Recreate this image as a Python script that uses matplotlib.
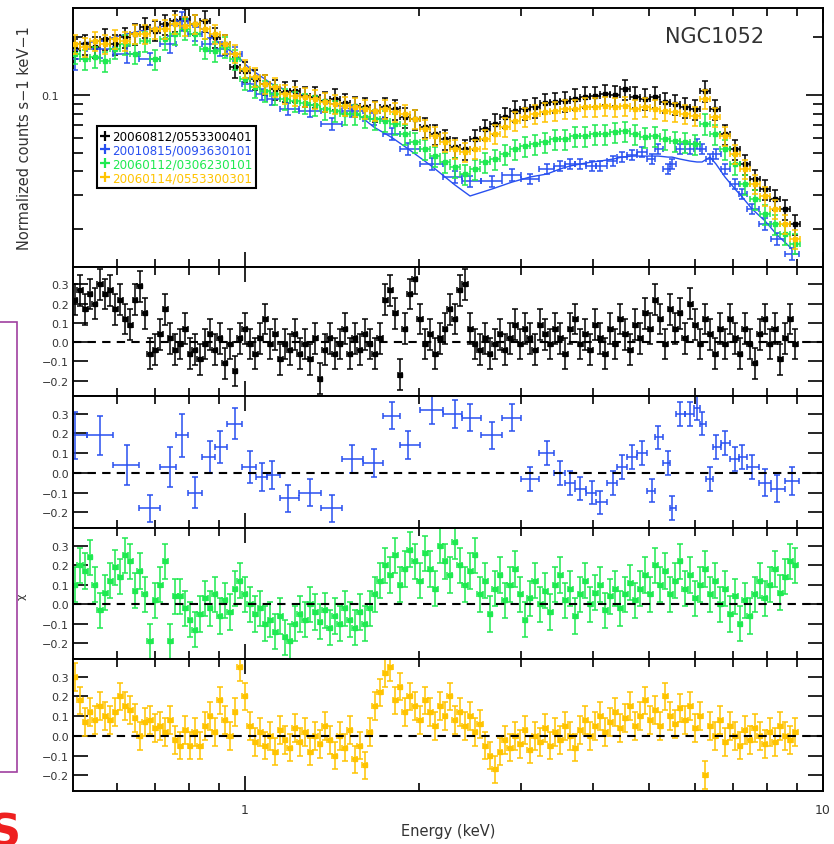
import numpy as np
import matplotlib.pyplot as plt
import matplotlib as mpl
from matplotlib.lines import Line2D
from matplotlib.patches import Rectangle
from matplotlib.ticker import NullFormatter

mpl.rcParams['font.family'] = 'DejaVu Sans'

# channel energies (keV) shared by the three dense observations
energy = [
    0.508, 0.518, 0.529, 0.539, 0.550, 0.561, 0.573, 0.584, 0.596, 0.608,
    0.620, 0.633, 0.645, 0.658, 0.671, 0.685, 0.699, 0.713, 0.727, 0.742,
    0.757, 0.772, 0.788, 0.803, 0.819, 0.836, 0.853, 0.870, 0.887, 0.905,
    0.923, 0.942, 0.961, 0.980, 1.000, 1.020, 1.041, 1.062, 1.083, 1.105,
    1.127, 1.150, 1.173, 1.196, 1.220, 1.245, 1.270, 1.296, 1.322, 1.348,
    1.375, 1.403, 1.431, 1.460, 1.489, 1.519, 1.550, 1.581, 1.613, 1.645,
    1.678, 1.712, 1.747, 1.782, 1.818, 1.854, 1.891, 1.930, 1.968, 2.008,
    2.049, 2.090, 2.132, 2.175, 2.218, 2.263, 2.308, 2.355, 2.402, 2.451,
    2.500, 2.550, 2.602, 2.654, 2.707, 2.762, 2.817, 2.874, 2.932, 2.991,
    3.051, 3.112, 3.175, 3.239, 3.304, 3.371, 3.439, 3.508, 3.579, 3.651,
    3.724, 3.799, 3.876, 3.954, 4.033, 4.115, 4.198, 4.282, 4.369, 4.457,
    4.546, 4.638, 4.731, 4.827, 4.924, 5.022, 5.122, 5.224, 5.329, 5.437,
    5.546, 5.657, 5.771, 5.888, 6.006, 6.127, 6.250, 6.376, 6.504, 6.635,
    6.768, 6.905, 7.043, 7.185, 7.328, 7.476, 7.626, 7.780, 7.937, 8.096,
    8.260, 8.426, 8.596, 8.769, 8.946]

black_res = [
    0.22, 0.27, 0.17, 0.25, 0.20, 0.30, 0.25, 0.27, 0.17, 0.22,
    0.12, 0.09, 0.22, 0.29, 0.15, -0.06, -0.04, 0.04, 0.17, 0.02,
    -0.04, -0.01, 0.07, -0.06, -0.04, -0.09, -0.01, 0.04, -0.04, 0.02,
    -0.11, -0.01, -0.15, 0.02, 0.07, -0.01, -0.06, 0.02, 0.12, -0.01,
    0.04, -0.09, -0.01, -0.04, 0.04, -0.06, -0.01, -0.09, 0.02, -0.19,
    -0.04, 0.02, -0.06, -0.01, 0.07, -0.06, 0.02, -0.04, 0.04, -0.01,
    -0.06, 0.02, 0.22, 0.27, 0.15, -0.17, 0.07, 0.25, 0.33, 0.12,
    -0.01, 0.04, -0.06, 0.02, 0.07, 0.17, 0.12, 0.27, 0.30, 0.07,
    -0.01, -0.04, 0.02, -0.06, -0.01, 0.04, -0.04, 0.02, 0.09, -0.01,
    0.07, 0.02, -0.04, 0.09, 0.04, -0.01, 0.07, 0.02, -0.06, 0.07,
    0.12, -0.01, 0.04, -0.04, 0.09, 0.02, -0.06, 0.07, -0.01, 0.12,
    0.04, -0.04, 0.09, 0.02, 0.15, 0.07, 0.22, 0.12, -0.01, 0.17,
    0.07, 0.15, 0.02, 0.20, 0.09, -0.01, 0.12, 0.04, -0.06, 0.07,
    -0.01, 0.12, 0.02, -0.06, 0.07, -0.01, -0.11, 0.04, 0.12, -0.01,
    0.07, -0.09, 0.02, 0.12, -0.01]

green_res = [
    0.10, 0.20, 0.17, 0.24, 0.10, -0.03, 0.06, 0.12, 0.19, 0.14,
    0.25, 0.22, 0.07, 0.17, 0.05, -0.19, 0.02, 0.10, 0.22, -0.19,
    0.04, 0.04, -0.02, -0.08, -0.13, -0.05, 0.03, -0.02, 0.05, -0.06,
    0.02, -0.04, 0.08, 0.12, 0.05, 0.00, -0.05, -0.02, -0.10, -0.08,
    -0.14, -0.06, -0.17, -0.19, -0.10, -0.05, -0.08, 0.00, -0.04, -0.09,
    -0.03, -0.12, -0.06, -0.10, -0.02, -0.08, -0.12, -0.04, -0.10, -0.02,
    0.05, 0.12, 0.20, 0.15, 0.25, 0.10, 0.18, 0.28, 0.22, 0.12,
    0.26, 0.18, 0.08, 0.30, 0.22, 0.15, 0.32, 0.20, 0.10, 0.17,
    0.25, 0.05, 0.12, -0.05, 0.08, 0.15, 0.02, 0.10, 0.18, 0.05,
    -0.08, 0.03, 0.12, 0.00, 0.07, -0.04, 0.10, 0.15, 0.02, 0.08,
    -0.06, 0.05, 0.12, 0.00, 0.06, 0.10, -0.03, 0.04, 0.08, -0.02,
    0.05, 0.11, 0.02, 0.08, 0.15, 0.05, 0.20, 0.10, 0.17, 0.05,
    0.12, 0.22, 0.08, 0.15, 0.03, 0.10, 0.18, 0.05, 0.12, 0.00,
    0.08, -0.05, 0.04, -0.10, 0.02, -0.06, 0.05, 0.12, 0.03, 0.10,
    0.18, 0.06, 0.14, 0.22, 0.20]

orange_res = [
    0.30, 0.18, 0.07, 0.12, 0.08, 0.15, 0.10, 0.08, 0.12, 0.20,
    0.15, 0.13, 0.09, 0.00, 0.07, 0.08, 0.04, 0.05, 0.02, 0.08,
    -0.02, -0.05, 0.03, -0.05, 0.02, -0.05, 0.05, 0.10, 0.02, 0.18,
    0.08, 0.00, 0.12, 0.35, 0.20, 0.05, -0.03, 0.02, -0.05, 0.00,
    -0.08, 0.03, -0.02, -0.06, 0.04, -0.03, 0.02, -0.08, 0.00, -0.04,
    0.05, -0.02, -0.10, 0.00, -0.06, 0.03, -0.12, -0.05, -0.15, 0.02,
    0.15, 0.22, 0.32, 0.35, 0.18, 0.25, 0.12, 0.20, 0.15, 0.08,
    0.18, 0.12, 0.05, 0.15, 0.10, 0.20, 0.08, 0.12, 0.05, 0.10,
    0.02, 0.06, -0.05, -0.10, -0.17, -0.08, -0.02, -0.06, 0.00, -0.04,
    0.03, -0.07, 0.00, -0.03, 0.04, -0.05, 0.02, -0.02, 0.05, 0.00,
    -0.06, 0.03, 0.08, 0.00, 0.05, 0.10, 0.02, 0.07, 0.12, 0.04,
    0.09, 0.15, 0.05, 0.10, 0.18, 0.08, 0.13, 0.05, 0.20, 0.10,
    0.06, 0.14, 0.08, 0.15, 0.04, 0.10, -0.20, 0.05, 0.00, 0.08,
    -0.03, 0.05, 0.00, -0.05, 0.03, -0.02, 0.04, 0.00, -0.04, 0.02,
    -0.03, 0.05, 0.00, -0.02, 0.02]

# spectra in the top panel are binned at every second channel
top_energy = energy[::2]

black_counts = [
    0.174, 0.184, 0.178, 0.196, 0.184, 0.200, 0.208, 0.226, 0.216, 0.234,
    0.243, 0.249, 0.234, 0.243, 0.200, 0.184, 0.140, 0.133, 0.121, 0.114,
    0.107, 0.104, 0.105, 0.0988, 0.0977, 0.0931, 0.0954, 0.0909, 0.0877, 0.0866,
    0.0826, 0.0866, 0.0846, 0.0768, 0.0750, 0.0681, 0.0626, 0.0590, 0.0536, 0.0523,
    0.0590, 0.0665, 0.0707, 0.0768, 0.0826, 0.0846, 0.0866, 0.0909, 0.0920, 0.0931,
    0.0954, 0.0977, 0.0988, 0.101, 0.100, 0.107, 0.0977, 0.0954, 0.0977, 0.0920,
    0.0898, 0.0866, 0.0846, 0.105, 0.0846, 0.0626, 0.0523, 0.0437, 0.0365, 0.0324,
    0.0287, 0.0255, 0.0213]

green_counts = [
    0.164, 0.154, 0.158, 0.150, 0.174, 0.184, 0.164, 0.191, 0.154, 0.196,
    0.208, 0.221, 0.208, 0.174, 0.169, 0.178, 0.154, 0.121, 0.110, 0.105,
    0.101, 0.0954, 0.0931, 0.0909, 0.0887, 0.0846, 0.0826, 0.0796, 0.0796, 0.0768,
    0.0750, 0.0733, 0.0707, 0.0626, 0.0569, 0.0523, 0.0481, 0.0448, 0.0422, 0.0388,
    0.0412, 0.0448, 0.0464, 0.0493, 0.0523, 0.0542, 0.0556, 0.0569, 0.0590, 0.0590,
    0.0611, 0.0611, 0.0626, 0.0626, 0.0642, 0.0649, 0.0626, 0.0604, 0.0611, 0.0590,
    0.0576, 0.0569, 0.0556, 0.0707, 0.0626, 0.0523, 0.0437, 0.0344, 0.0287, 0.0240,
    0.0213, 0.0189, 0.0168]

orange_counts = [
    0.184, 0.178, 0.191, 0.184, 0.196, 0.191, 0.208, 0.208, 0.221, 0.221,
    0.234, 0.229, 0.234, 0.221, 0.208, 0.184, 0.164, 0.137, 0.124, 0.114,
    0.110, 0.101, 0.0988, 0.0977, 0.0954, 0.0920, 0.0898, 0.0877, 0.0866, 0.0846,
    0.0826, 0.0846, 0.0816, 0.0796, 0.0750, 0.0665, 0.0611, 0.0569, 0.0523, 0.0505,
    0.0523, 0.0590, 0.0626, 0.0681, 0.0733, 0.0768, 0.0796, 0.0816, 0.0826, 0.0846,
    0.0846, 0.0866, 0.0866, 0.0877, 0.0866, 0.0877, 0.0846, 0.0866, 0.0846, 0.0826,
    0.0816, 0.0796, 0.0778, 0.0954, 0.0768, 0.0611, 0.0493, 0.0412, 0.0344, 0.0298,
    0.0255, 0.0213, 0.0178]

# typical fractional errors of the dense observations (residuals / spectra)
black_err = 0.08
green_err = 0.09
orange_err = 0.07
black_top_err = 0.12
green_top_err = 0.12
orange_top_err = 0.11

# the 2001 observation has far fewer (wider) bins
blue_energy = [
    0.508, 0.561, 0.625, 0.685, 0.742, 0.778, 0.819, 0.870, 0.905, 0.961,
    1.020, 1.070, 1.114, 1.187, 1.296, 1.414, 1.531, 1.672, 1.796, 1.914,
    2.106, 2.308, 2.451, 2.675, 2.897, 3.112, 3.331, 3.508, 3.651, 3.799,
    3.985, 4.115, 4.332, 4.489, 4.673, 4.862, 5.061, 5.183, 5.394, 5.482,
    5.657, 5.888, 6.053, 6.177, 6.376, 6.530, 6.768, 7.043, 7.244, 7.538,
    7.937, 8.326, 8.838]

blue_counts = [
    0.154, 0.174, 0.164, 0.154, 0.184, 0.243, 0.208, 0.184, 0.174, 0.164,
    0.114, 0.101, 0.0954, 0.0846, 0.0826, 0.0707, 0.0826, 0.0750, 0.0626, 0.0523,
    0.0437, 0.0374, 0.0356, 0.0356, 0.0383, 0.0365, 0.0412, 0.0427, 0.0437, 0.0437,
    0.0427, 0.0427, 0.0452, 0.0475, 0.0487, 0.0505, 0.0464, 0.0523, 0.0412, 0.0437,
    0.0523, 0.0523, 0.0556, 0.0523, 0.0464, 0.0493, 0.0412, 0.0344, 0.0305, 0.0255,
    0.0213, 0.0178, 0.0149]

blue_model = [
    0.184, 0.191, 0.208, 0.221, 0.232, 0.229, 0.232, 0.208, 0.184, 0.164,
    0.137, 0.124, 0.114, 0.105, 0.0977, 0.0898, 0.0840, 0.0680, 0.0600, 0.0525,
    0.0425, 0.0340, 0.0298, 0.0324, 0.0352, 0.0374, 0.0388, 0.0412, 0.0427, 0.0437,
    0.0448, 0.0453, 0.0464, 0.0475, 0.0481, 0.0481, 0.0481, 0.0481, 0.0475, 0.0475,
    0.0464, 0.0453, 0.0448, 0.0448, 0.0475, 0.0437, 0.0374, 0.0324, 0.0295, 0.0255,
    0.0221, 0.0187, 0.0158]

blue_res = [
    0.19, 0.19, 0.04, -0.18, 0.03, 0.19, -0.10, 0.08, 0.13, 0.25,
    0.03, -0.02, -0.01, -0.13, -0.10, -0.18, 0.07, 0.05, 0.29, 0.14,
    0.32, 0.30, 0.28, 0.19, 0.28, -0.03, 0.10, 0.00, -0.05, -0.08,
    -0.10, -0.15, -0.05, 0.03, 0.08, 0.10, -0.09, 0.18, 0.05, -0.18,
    0.30, 0.30, 0.33, 0.25, -0.03, 0.13, 0.15, 0.07, 0.08, 0.03,
    -0.05, -0.08, -0.04]

blue_err = [
    0.12, 0.10, 0.10, 0.07, 0.10, 0.11, 0.08, 0.08, 0.08, 0.08,
    0.08, 0.07, 0.07, 0.07, 0.07, 0.07, 0.07, 0.07, 0.07, 0.07,
    0.07, 0.07, 0.07, 0.07, 0.07, 0.06, 0.06, 0.06, 0.06, 0.06,
    0.06, 0.06, 0.06, 0.06, 0.06, 0.06, 0.06, 0.06, 0.06, 0.06,
    0.06, 0.06, 0.06, 0.06, 0.06, 0.06, 0.06, 0.06, 0.06, 0.06,
    0.07, 0.07, 0.07]

obs_labels = ['20060812/0553300401', '20010815/0093630101',
              '20060112/0306230101', '20060114/0553300301']
obs_colors = ['#000000', '#2850f0', '#1eea50', '#ffc400']


def bin_xerr(e):
    # contiguous bins: edges half way (in log) between neighbouring channels
    e = np.asarray(e)
    mid = np.sqrt(e[1:] * e[:-1])
    lo = np.concatenate([[e[0] ** 2 / mid[0]], mid])
    hi = np.concatenate([mid, [e[-1] ** 2 / mid[-1]]])
    return [e - lo, hi - e]


W, H = 834, 845
fig = plt.figure(figsize=(W / 100, H / 100), dpi=100)


def px_axes(top, bottom, left=73, right=823):
    return fig.add_axes([left / W, 1 - bottom / H, (right - left) / W, (bottom - top) / H])


ax_top = px_axes(9, 268)
res_axes = [px_axes(268, 397), px_axes(397, 529), px_axes(529, 660), px_axes(660, 792)]

ekw = dict(elinewidth=1.1, capsize=2.2, capthick=1.1, ls='none')

# top panel: spectra
ax_top.plot(blue_energy, blue_model, color=obs_colors[1], lw=1.0, zorder=1)
ax_top.errorbar(top_energy, black_counts, xerr=bin_xerr(top_energy),
                yerr=np.array(black_counts) * black_top_err, fmt='s', ms=3.5,
                color=obs_colors[0], zorder=2, **ekw)
ax_top.errorbar(blue_energy, blue_counts, xerr=bin_xerr(blue_energy),
                yerr=np.array(blue_counts) * np.array(blue_err), fmt='none',
                color=obs_colors[1], zorder=3, **ekw)
ax_top.errorbar(top_energy, green_counts, xerr=bin_xerr(top_energy),
                yerr=np.array(green_counts) * green_top_err, fmt='s', ms=3.5,
                color=obs_colors[2], zorder=4, **ekw)
ax_top.errorbar(top_energy, orange_counts, xerr=bin_xerr(top_energy),
                yerr=np.array(orange_counts) * orange_top_err, fmt='s', ms=3.5,
                color=obs_colors[3], zorder=5, **ekw)

ax_top.set_yscale('log')
ax_top.set_ylim(0.01272, 0.2838)
ax_top.set_yticks([0.1])
ax_top.set_yticklabels(['0.1'])
ax_top.set_yticks([0.02, 0.03, 0.04, 0.05, 0.06, 0.07, 0.08, 0.09, 0.2], minor=True)
ax_top.yaxis.set_minor_formatter(NullFormatter())
ax_top.tick_params(axis='y', which='major', length=12, pad=10)
ax_top.tick_params(axis='y', which='minor', length=7)

ax_top.text(0.856, 0.892, 'NGC1052', transform=ax_top.transAxes, ha='center',
            va='center', fontsize=15, color='#333333')

handles = [Line2D([], [], color=c, marker='+', ls='none', ms=7, mew=1.6) for c in obs_colors]
leg = ax_top.legend(handles, obs_labels, loc='upper left', bbox_to_anchor=(0.032, 0.544),
                    fancybox=False, edgecolor='black', fontsize=8.6, labelcolor='linecolor',
                    handlelength=0.7, handletextpad=0.3, borderpad=0.3,
                    labelspacing=0.08, borderaxespad=0, framealpha=1)
leg.get_frame().set_linewidth(1.5)

# residual panels
res_sets = [
    (energy, black_res, black_err, 's', obs_colors[0]),
    (blue_energy, blue_res, blue_err, 'none', obs_colors[1]),
    (energy, green_res, green_err, 's', obs_colors[2]),
    (energy, orange_res, orange_err, 's', obs_colors[3]),
]
for ax, (e, r, err, fmt, c) in zip(res_axes, res_sets):
    ax.errorbar(e, r, xerr=bin_xerr(e), yerr=err, fmt=fmt, ms=3, color=c,
                zorder=2, **ekw)
    ax.axhline(0, color='black', lw=1.5, ls=(0, (4, 3)), zorder=4)
    ax.set_ylim(-0.28, 0.39)
    ax.set_yticks([-0.2, -0.1, 0.0, 0.1, 0.2, 0.3])
    ax.set_yticklabels(['\u22120.2', '\u22120.1', '0.0', '0.1', '0.2', '0.3'])
    ax.tick_params(axis='y', which='major', length=11, pad=3)

for ax in [ax_top] + res_axes:
    ax.set_xscale('log')
    ax.set_xlim(0.504, 10)
    ax.set_xticks([1, 10])
    ax.set_xticklabels(['1', '10'])
    ax.xaxis.set_minor_formatter(NullFormatter())
    ax.tick_params(which='both', direction='in', top=True, right=True,
                   width=1.2, labelsize=8, labelcolor='#333333')
    ax.tick_params(axis='x', which='major', length=11, pad=9, labelsize=9)
    ax.tick_params(axis='x', which='minor', length=6)
    for sp in ax.spines.values():
        sp.set_linewidth(1.4)
    if ax is not res_axes[-1]:
        ax.tick_params(axis='x', labelbottom=False)

fig.text(25 / W, 1 - 138 / H, 'Normalized counts s\u22121 keV\u22121', rotation=90,
         ha='center', va='center', fontsize=10.5, color='#333333')
fig.text(22 / W, 1 - 597 / H, '\u03c7', rotation=90, ha='center', va='center',
         fontsize=8, color='#333333')
fig.text(448 / W, 1 - 832 / H, 'Energy (keV)', ha='center', va='center',
         fontsize=10.5, color='#333333')

# stray pieces of the neighbouring page
fig.add_artist(Rectangle((-0.02, 1 - 773 / H), 0.02 + 17 / W, 450 / H,
                         transform=fig.transFigure, fill=False,
                         edgecolor='#a040a0', lw=1.2))
fig.text(-0.014, -0.012, 'S', color='#ee2020', fontsize=32, fontweight='bold',
         ha='left', va='bottom')

fig.savefig('out.png', dpi=100)
